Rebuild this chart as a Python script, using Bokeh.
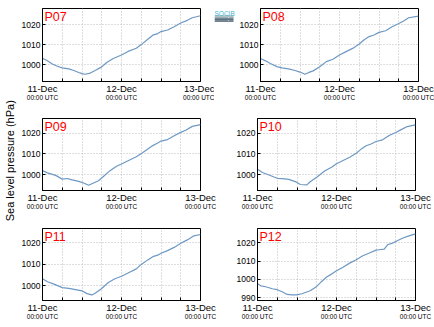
import math
from bokeh.plotting import figure
from bokeh.layouts import row, column
from bokeh.models import Range1d, FixedTicker, LinearAxis, Label, ColumnDataSource
from bokeh.embed import file_html
from bokeh.resources import INLINE

# ---------------- data ----------------
names = ["P07", "P08", "P09", "P10", "P11", "P12"]

hours_p07 = [0, 1.5, 3, 4.5, 6, 8, 9.5, 11, 12, 13, 14.5, 16, 18, 19.5, 21.5, 24, 26, 28.5, 30, 32, 33.5, 35, 36, 38, 40, 42, 44, 45.5, 48]
slp_p07 = [1003.2, 1001.9, 1000.3, 999.2, 998.4, 997.9, 997.1, 996.1, 995.5, 995.2, 995.8, 997.1, 998.9, 1001.1, 1003.1, 1004.8, 1006.6, 1008.2, 1010.0, 1012.7, 1014.7, 1015.5, 1016.5, 1017.3, 1018.9, 1020.8, 1022.1, 1023.4, 1024.4]

hours_p08 = [0, 1.5, 3, 5, 6.5, 8.5, 10.5, 12, 13.5, 14.5, 16, 18, 20, 22, 24, 26, 28, 30, 31.5, 33, 34.5, 36, 38, 40, 42, 43.5, 45, 48]
slp_p08 = [1003.1, 1001.9, 1000.6, 999.0, 998.4, 997.9, 997.1, 996.3, 995.2, 996.0, 996.9, 999.0, 1001.5, 1002.7, 1004.8, 1006.5, 1008.1, 1010.3, 1012.4, 1014.0, 1014.8, 1016.1, 1016.9, 1018.9, 1020.5, 1021.8, 1023.4, 1024.2]

hours_p09 = [0, 1.5, 4, 6, 7.5, 9, 11, 12.5, 14, 15.5, 17, 18.5, 20.5, 22.5, 24, 26, 28.5, 30.5, 32, 33.5, 35, 36, 38, 40, 42, 43.5, 45.5, 48]
slp_p09 = [1001.9, 1000.8, 999.6, 997.8, 998.1, 997.4, 996.7, 995.9, 994.8, 995.9, 997.0, 999.1, 1001.9, 1004.0, 1005.1, 1006.7, 1008.6, 1010.7, 1012.4, 1014.0, 1015.3, 1016.2, 1016.9, 1018.8, 1020.4, 1021.4, 1023.3, 1024.1]

hours_p10 = [0, 1.5, 3.5, 6, 7.5, 9.5, 11.5, 13, 15, 16, 18, 20.5, 22.5, 24, 26, 28, 30, 31.5, 33, 34.5, 36, 38, 40, 42, 43.5, 45.5, 48]
slp_p10 = [1002.6, 1001.0, 999.8, 998.2, 998.0, 997.7, 996.6, 995.2, 995.0, 996.5, 998.7, 1001.8, 1003.5, 1005.2, 1006.8, 1008.4, 1010.3, 1012.3, 1013.9, 1014.8, 1016.0, 1016.8, 1018.9, 1020.3, 1021.6, 1023.2, 1024.0]

hours_p11 = [0, 1.5, 3.5, 6, 8, 10, 12, 13.5, 15, 16, 18, 20, 22, 24, 26, 28.5, 30, 32, 33.5, 35, 36, 38, 40, 42, 44, 46, 48]
slp_p11 = [1003.3, 1001.9, 1000.8, 999.2, 998.8, 998.3, 997.7, 996.4, 995.8, 996.6, 998.8, 1001.6, 1003.3, 1004.5, 1006.0, 1007.9, 1010.0, 1012.1, 1013.6, 1014.3, 1015.2, 1016.4, 1017.9, 1019.8, 1021.4, 1023.3, 1023.9]

hours_p12 = [0, 1, 2.5, 4.5, 6, 7.5, 9, 10.5, 12, 13.5, 16, 18, 19.5, 21, 22.5, 24, 26, 28, 30, 32, 34, 36, 37, 38.5, 39.5, 41, 42, 44, 46, 48]
slp_p12 = [997.6, 996.5, 996.0, 994.9, 994.4, 993.3, 991.8, 991.6, 991.6, 992.2, 993.8, 996.2, 998.9, 1001.3, 1002.9, 1004.7, 1006.7, 1008.9, 1010.7, 1012.9, 1014.4, 1016.0, 1016.2, 1016.5, 1018.9, 1019.8, 1020.7, 1022.5, 1023.8, 1024.9]

y_limits = [(991.6, 1028.0), (991.6, 1028.0), (992.3, 1027.1), (992.3, 1027.1), (993.2, 1026.7), (988.5, 1027.8)]

date_ticks = [0, 24, 48]
date_labels = ["11-Dec", "12-Dec", "13-Dec"]
time_labels = ["00:00 UTC", "00:00 UTC", "00:00 UTC"]
grid_hours = [0, 6, 12, 18, 24, 30, 36, 42, 48]

y_title = "Sea level pressure (hPa)"
logo_text = "SOCIB"

series = [(hours_p07, slp_p07), (hours_p08, slp_p08), (hours_p09, slp_p09),
          (hours_p10, slp_p10), (hours_p11, slp_p11), (hours_p12, slp_p12)]

FONT = "Liberation Sans"
LINE_COLOR = "#6d98c4"


def panel(i, br_left=None, br_right=None):
    col = i % 2
    r = i // 2
    hrs, vals = series[i]
    y0, y1 = y_limits[i]
    fh = 73 if r == 0 else 72
    bottom = {0: 29, 1: 30, 2: 27}[r]
    if col == 0:
        bl, br = 24, 30
    else:
        bl, br = 27, 19
    if br_left is not None:
        bl = br_left
    if br_right is not None:
        br = br_right
    p = figure(frame_width=158, frame_height=fh, output_backend="svg", toolbar_location=None,
               x_range=Range1d(0, 48), y_range=Range1d(y0, y1),
               min_border_left=bl, min_border_right=br, min_border_top=8, min_border_bottom=bottom,
               background_fill_color="white", border_fill_color="white")
    p.outline_line_color = "black"
    p.outline_line_width = 1
    # x axis (dates)
    xa = p.xaxis[0]
    xa.ticker = FixedTicker(ticks=grid_hours)
    xa.major_label_overrides = {h: (date_labels[date_ticks.index(h)] if h in date_ticks else "") for h in grid_hours}
    xa.major_tick_in = 3
    xa.major_tick_out = 0
    xa.minor_tick_line_color = None
    xa.axis_line_color = "black"
    xa.major_label_text_font = FONT
    xa.major_label_text_font_size = "9.5px"
    xa.major_label_standoff = 1
    xa.major_label_text_color = "black"
    # second x axis (times)
    xa2 = LinearAxis(ticker=FixedTicker(ticks=date_ticks),
                     major_label_overrides={h: t for h, t in zip(date_ticks, time_labels)})
    xa2.axis_line_color = None
    xa2.major_tick_line_color = None
    xa2.major_tick_in = 0
    xa2.major_tick_out = 0
    xa2.minor_tick_line_color = None
    xa2.minor_tick_in = 0
    xa2.minor_tick_out = 0
    xa2.major_label_text_font = FONT
    xa2.major_label_text_font_size = "6.5px"
    xa2.major_label_standoff = -3
    xa2.major_label_text_color = "black"
    p.add_layout(xa2, "below")
    # y axis
    ya = p.yaxis[0]
    ya.ticker = FixedTicker(ticks=[990, 1000, 1010, 1020])
    ya.major_tick_in = 3
    ya.major_tick_out = 0
    ya.minor_tick_line_color = None
    ya.axis_line_color = "black"
    ya.major_label_text_font = FONT
    ya.major_label_text_font_size = "8.5px"
    ya.major_label_standoff = 2
    ya.major_label_text_color = "black"
    # grids
    p.xgrid.ticker = FixedTicker(ticks=grid_hours)
    p.ygrid.ticker = FixedTicker(ticks=[990, 1000, 1010, 1020])
    for g in (p.xgrid[0], p.ygrid[0]):
        g.grid_line_color = "#bdbdbd"
        g.grid_line_dash = "1 2"
        g.grid_line_width = 1
    src = ColumnDataSource(dict(h=hrs, p=vals))
    p.line("h", "p", source=src, line_color=LINE_COLOR, line_width=1.2)
    p.add_layout(Label(x=0, y=y1, x_offset=2, y_offset=-1, text=names[i], text_baseline="top",
                       text_color="red", text_font=FONT, text_font_size="12.5px"))
    return p


figs = []
for i in range(6):
    if i == 0:
        figs.append(panel(i, br_right=14))
    elif i == 1:
        figs.append(panel(i, br_left=21))
    else:
        figs.append(panel(i))

# small logo figure between the two top panels (decoration, not data)
logo = figure(width=22, height=110, output_backend="svg", toolbar_location=None,
              x_axis_location=None, y_axis_location=None,
              x_range=Range1d(0, 22), y_range=Range1d(110, 0), min_border=0,
              outline_line_color=None, background_fill_color="white", border_fill_color="white")
logo.grid.visible = False
logo.add_layout(Label(x=0, y=2, text=logo_text, text_baseline="top", text_align="left",
                      text_color="#3fb7cf", text_font=FONT, text_font_size="6.5px"))
band_cols = ["#a7b9c1", "#8ea3ad", "#748b97", "#5b7381", "#46596a"]
band_top = [10, 12, 14, 16, 18]
logo.quad(left=0, right=19, top=band_top, bottom=[t + 2 for t in band_top],
          fill_color=band_cols, line_color=None)
logo.add_layout(Label(x=13, y=10, text=":", text_baseline="top", text_color="white",
                      text_font=FONT, text_font_size="7px"))

lab = figure(width=18, height=327, output_backend="svg", toolbar_location=None,
             x_axis_location=None, y_axis_location=None,
             x_range=Range1d(0, 1), y_range=Range1d(0, 1),
             min_border=0, outline_line_color=None)
lab.grid.visible = False
lab.add_layout(Label(x=0.55, y=0.51, text=y_title, angle=math.pi / 2, text_align="center",
                     text_baseline="middle", text_font=FONT, text_font_size="11px", text_color="black"))

grid = column(row(figs[0], logo, figs[1]), row(figs[2], figs[3]), row(figs[4], figs[5]))
layout = row(lab, grid)

open("out.html", "w").write(file_html(layout, INLINE))
